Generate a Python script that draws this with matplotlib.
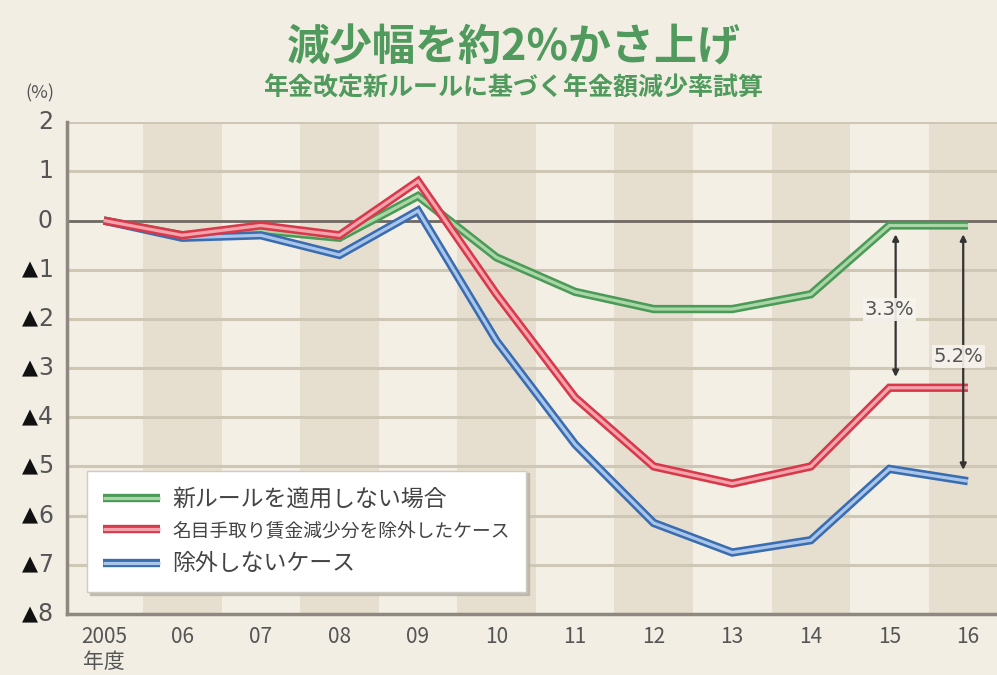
import matplotlib
matplotlib.use('Agg')
import matplotlib.pyplot as plt
from matplotlib.lines import Line2D
from matplotlib.legend_handler import HandlerTuple

plt.rcParams['font.family'] = ['Noto Sans CJK JP', 'DejaVu Sans']

# data
years = [2005, 2006, 2007, 2008, 2009, 2010, 2011, 2012, 2013, 2014, 2015, 2016]
year_labels = ['2005\n年度', '06', '07', '08', '09', '10', '11', '12', '13', '14', '15', '16']
no_rule = [0, -0.3, -0.2, -0.35, 0.5, -0.75, -1.45, -1.8, -1.8, -1.5, -0.1, -0.1]
excl_wage = [0, -0.3, -0.1, -0.3, 0.8, -1.5, -3.6, -5.0, -5.35, -5.0, -3.4, -3.4]
no_excl = [0, -0.35, -0.3, -0.7, 0.2, -2.45, -4.55, -6.15, -6.75, -6.5, -5.05, -5.3]
series_names = ['新ルールを適用しない場合', '名目手取り賃金減少分を除外したケース', '除外しないケース']
yticks = [2, 1, 0, -1, -2, -3, -4, -5, -6, -7, -8]
gap_labels = ['3.3%', '5.2%']

outer = ['#4c9a57', '#d8394a', '#3a6cb0']
inner = ['#a9d6a6', '#f3a3ac', '#a9c5ea']

fig = plt.figure(figsize=(9.97, 6.75), dpi=100, facecolor='#f2eee3')
ax = fig.add_axes([0.067, 0.0904, 0.933, 0.7286])
ax.set_facecolor('#f3efe4')
ax.set_xlim(2004.53, 2016.37)
ax.set_ylim(-8, 2)

# alternating stripes on even years
for y in years:
    if y % 2 == 0:
        ax.axvspan(y - 0.5, y + 0.5, color='#e6dece', lw=0, zorder=0.5)

for v in yticks:
    if v == 0:
        ax.axhline(0, color='#6e6862', lw=2, zorder=2)
    elif v > -8:
        ax.axhline(v, color='#cfc7b6', lw=2.2, zorder=1.5)

for s in ['top', 'right']:
    ax.spines[s].set_visible(False)
for s in ['left', 'bottom']:
    ax.spines[s].set_color('#8e8880')
    ax.spines[s].set_linewidth(2.5)

# double lines
handles = []
for i, vals in enumerate([no_rule, excl_wage, no_excl]):
    z = [3, 5, 4][i]
    ax.plot(years, vals, color=outer[i], lw=6, solid_joinstyle='miter',
            solid_capstyle='butt', zorder=z)
    ax.plot(years, vals, color=inner[i], lw=2.3, solid_joinstyle='miter',
            solid_capstyle='butt', zorder=z + 0.1)
    handles.append((Line2D([], [], color=outer[i], lw=6, solid_capstyle='butt'),
                    Line2D([], [], color=inner[i], lw=2.3, solid_capstyle='butt')))

ax.set_xticks(years)
ax.set_xticklabels(year_labels, fontsize=15, color='#555555', va='top',
                   linespacing=1.15)
ax.tick_params(axis='x', length=0, pad=9)
ax.set_yticks([])

# y labels with black triangles for negatives
for v in yticks:
    ax.annotate(str(abs(v)), xy=(0, v), xycoords=('axes fraction', 'data'),
                xytext=(-10, 0), textcoords='offset points', ha='right',
                va='center', fontsize=17, color='#555555',
                family='DejaVu Sans')
    if v < 0:
        ax.annotate('▲', xy=(0, v), xycoords=('axes fraction', 'data'),
                    xytext=(-21, 0), textcoords='offset points', ha='right',
                    va='center', fontsize=15, color='#111111',
                    family='DejaVu Sans')

# gap arrows
arrow_x = [years[-2] + 0.08, years[-1] - 0.06]
ends = [excl_wage[-2] + 0.22, no_excl[-1] + 0.23]
label_pos = [(2015.0, -1.8), (2015.88, -2.77)]
for i in range(2):
    ax.annotate('', xy=(arrow_x[i], ends[i]), xytext=(arrow_x[i], no_rule[-1] - 0.18),
                arrowprops=dict(arrowstyle='<|-|>', color='#333333', lw=1.6,
                                mutation_scale=9, shrinkA=0, shrinkB=0), zorder=6)
    ax.text(label_pos[i][0], label_pos[i][1], gap_labels[i], ha='center', va='center',
            fontsize=14, color='#555555', zorder=7, family='DejaVu Sans',
            bbox=dict(boxstyle='square,pad=0.1', fc='#f7f4ee', ec='none', alpha=0.9))

leg = ax.legend(handles, series_names, handler_map={tuple: HandlerTuple(ndivide=1)},
                loc='lower left', bbox_to_anchor=(0.0215, 0.045), borderaxespad=0,
                fontsize=15, handlelength=2.7, handletextpad=0.6, labelspacing=0.5,
                frameon=True, fancybox=False, shadow={'color': '#b8b2a8', 'alpha': 0.8},
                borderpad=0.8)
leg.get_frame().set_facecolor('white')
leg.get_frame().set_edgecolor('#d0cbc2')
leg.set_zorder(8)
sizes = [16.5, 13.5, 16.5]
for t, s in zip(leg.get_texts(), sizes):
    t.set_color('#444444')
    t.set_fontsize(s)

fig.text(0.515, 0.930, '減少幅を約2%かさ上げ', ha='center', va='center',
         fontsize=31, fontweight='bold', color='#4f9a5c')
fig.text(0.515, 0.869, '年金改定新ルールに基づく年金額減少率試算', ha='center',
         va='center', fontsize=18, fontweight='bold', color='#4f9a5c')
fig.text(0.04, 0.862, '(%)', ha='center', va='center', fontsize=13, color='#555555')

fig.savefig('out.png', dpi=100, facecolor=fig.get_facecolor())
